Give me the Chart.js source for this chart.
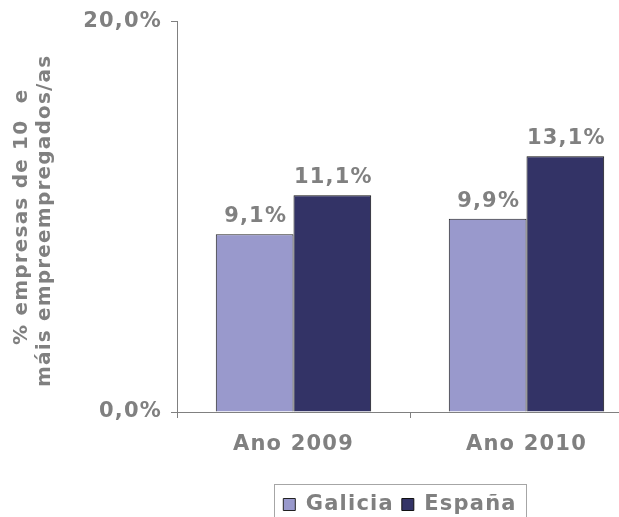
<!DOCTYPE html>
<html>
<head>
<meta charset="utf-8">
<script src="https://cdn.jsdelivr.net/npm/chart.js@4"></script>
<style>
  body { margin: 0; overflow: hidden; background: #fff; }
  #wrap { width: 645px; height: 517px; }
</style>
</head>
<body>
<div id="wrap"><canvas id="myChart" width="645" height="517"></canvas></div>
<script>
const categories = ['Ano 2009', 'Ano 2010'];
const galicia = [9.1, 9.9];
const espana = [11.1, 13.1];
const yTicks = [0, 20];

const grey = '#808080';
const fontFamily = "Verdana, 'DejaVu Sans', sans-serif";
const spacingPx = '1.2px';

function pct(v) {
    return v.toFixed(1).replace('.', ',') + '%';
}

// wider text, close to the Verdana look
const letterSpacing = {
    id: 'letterSpacing',
    beforeUpdate(chart) { chart.ctx.letterSpacing = spacingPx; },
    beforeDraw(chart) { chart.ctx.letterSpacing = spacingPx; }
};

// legend sits a bit left of the plot centre
const legendShift = {
    id: 'legendShift',
    afterLayout(chart) {
        chart.legend.left -= 10;
        chart.legend.right -= 10;
    }
};

// values above bars
const barLabels = {
    id: 'barLabels',
    afterDatasetsDraw(chart) {
        const ctx = chart.ctx;
        ctx.save();
        ctx.font = 'bold 21px ' + fontFamily;
        ctx.fillStyle = grey;
        ctx.textAlign = 'center';
        ctx.textBaseline = 'bottom';
        chart.data.datasets.forEach((ds, i) => {
            chart.getDatasetMeta(i).data.forEach((el, j) => {
                ctx.fillText(pct(ds.data[j]), el.x + 1, el.y - 7);
            });
        });
        ctx.restore();
    }
};

// frame round the legend
const legendBox = {
    id: 'legendBox',
    afterDraw(chart) {
        const lg = chart.legend;
        if (!lg || !lg.legendHitBoxes.length) return;
        const boxes = lg.legendHitBoxes;
        const left = boxes[0].left - 9;
        const last = boxes[boxes.length - 1];
        const right = last.left + last.width + 10;
        const top = boxes[0].top - 10;
        const ctx = chart.ctx;
        ctx.save();
        ctx.strokeStyle = '#a6a6a6';
        ctx.lineWidth = 1;
        ctx.strokeRect(Math.round(left) + 0.5, Math.round(top) + 0.5, Math.round(right - left), 60);
        ctx.restore();
    }
};

const ctx = document.getElementById('myChart');
new Chart(ctx, {
    type: 'bar',
    data: {
        labels: categories,
        datasets: [
            {
                label: 'Galicia',
                data: galicia,
                backgroundColor: '#9999cc',
                borderColor: '#222222',
                borderWidth: 1,
                categoryPercentage: 0.667,
                barPercentage: 1
            },
            {
                label: 'España',
                data: espana,
                backgroundColor: '#333366',
                borderColor: '#111111',
                borderWidth: 1,
                categoryPercentage: 0.667,
                barPercentage: 1
            }
        ]
    },
    options: {
        responsive: false,
        animation: false,
        layout: {
            padding: { top: 11, left: 0, right: 2, bottom: -8 }
        },
        plugins: {
            tooltip: { enabled: false },
            legend: {
                position: 'bottom',
                fullSize: false,
                labels: {
                    color: grey,
                    font: { family: fontFamily, size: 21, weight: 'bold' },
                    boxWidth: 12,
                    boxHeight: 12,
                    padding: 8
                }
            }
        },
        scales: {
            x: {
                offset: true,
                grid: {
                    drawOnChartArea: false,
                    drawTicks: true,
                    tickLength: 6,
                    color: grey
                },
                border: { display: true, color: grey, width: 1 },
                ticks: {
                    color: grey,
                    padding: 14,
                    font: { family: fontFamily, size: 21, weight: 'bold' }
                },
                afterFit(scale) {
                    scale.height = 74;
                }
            },
            y: {
                min: 0,
                max: 20,
                afterBuildTicks(scale) {
                    scale.ticks = yTicks.map(v => ({ value: v }));
                },
                grid: {
                    drawOnChartArea: false,
                    drawTicks: true,
                    tickLength: 6,
                    color: grey
                },
                border: { display: true, color: grey, width: 1 },
                ticks: {
                    color: grey,
                    padding: 9,
                    font: { family: fontFamily, size: 21, weight: 'bold' },
                    callback: v => pct(v)
                },
                title: {
                    display: true,
                    text: ['% empresas de 10  e', 'máis empreempregados/as '],
                    color: grey,
                    font: { family: fontFamily, size: 20, weight: 'bold', lineHeight: 1.15 },
                    padding: { top: 10, bottom: 0 }
                },
                afterFit(scale) {
                    scale.width = 177;
                }
            }
        }
    },
    plugins: [letterSpacing, legendShift, barLabels, legendBox]
});
</script>
</body>
</html>
